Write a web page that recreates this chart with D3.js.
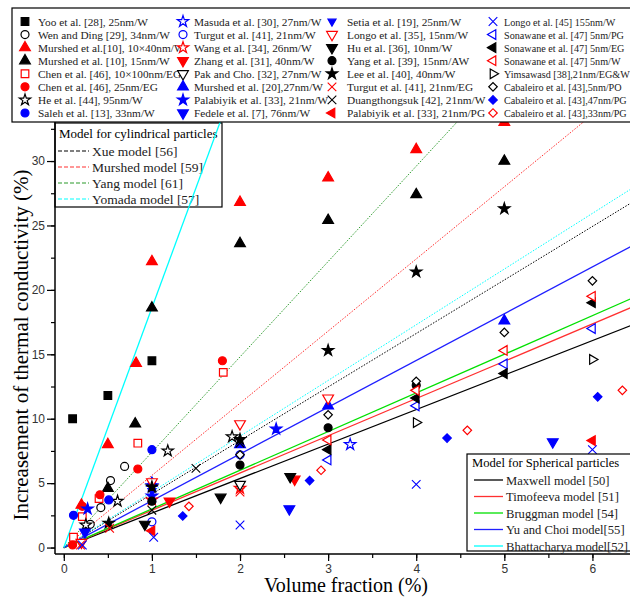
<!DOCTYPE html>
<html>
<head>
<meta charset="utf-8">
<script src="https://cdn.jsdelivr.net/npm/d3@7"></script>
<style>
  body { margin: 0; background: #fff; }
  svg { display: block; }
</style>
</head>
<body>
<div id="app"></div>
<script>
// legend labels, in column order (4 columns x 8 rows)
const seriesNames = [
  "Yoo et al. [28], 25nm/W", "Wen and Ding [29], 34nm/W", "Murshed et al.[10], 10\u00d740nm/W",
  "Murshed et al. [10], 15nm/W", "Chen et al. [46], 10\u00d7100nm/EG", "Chen et al.  [46], 25nm/EG",
  "He et al. [44], 95nm/W", "Saleh et al. [13], 33nm/W",
  "Masuda et al. [30], 27nm/W", "Turgut et al. [41], 21nm/W", "Wang et al. [34], 26nm/W",
  "Zhang et al. [31], 40nm/W", "Pak and Cho. [32], 27nm/W", "Murshed et al. [20],27nm/W",
  "Palabiyik et al. [33], 21nm/W", "Fedele et al. [7], 76nm/W",
  "Setia et al. [19], 25nm/W", "Longo et al. [35], 15nm/W", "Hu et al. [36], 10nm/W",
  "Yang et al. [39], 15nm/AW", "Lee et al. [40], 40nm/W", "Turgut et al. [41], 21nm/EG",
  "Duangthongsuk [42], 21nm/W", "Palabiyik et al. [33], 21nm/PG",
  "Longo et al. [45] 155nm/W", "Sonawane et al. [47] 5nm/PG", "Sonawane et al. [47] 5nm/EG",
  "Sonawane et al. [47] 5nm/W", "Yimsawasd [38],21nm/EG&W", "Cabaleiro et al. [43],5nm/PO",
  "Cabaleiro et al. [43],47nm/PG", "Cabaleiro et al. [43],33nm/PG"
];

// measured points [volume fraction %, enhancement %] per series (same order)
const seriesPoints = [
  [[0.1, 10], [0.5, 11.8], [1, 14.5]],
  [[0.3, 1.8], [0.42, 3.1], [0.53, 5.2], [0.69, 6.3]],
  [[0.2, 3.3], [0.5, 8.0], [0.82, 14.3], [1, 22.2], [2, 26.8], [3, 28.7], [4, 30.9], [5, 33.0]],
  [[0.5, 4.6], [0.81, 9.6], [1, 18.6], [2, 23.6], [3, 25.4], [4, 27.4], [5, 30.0]],
  [[0.11, 0.8], [0.21, 2.4], [0.4, 3.8], [0.84, 8.1], [1.81, 13.6]],
  [[0.1, 0.2], [0.21, 3.2], [0.41, 4.1], [0.84, 6.1], [1.8, 14.5]],
  [[0.25, 1.75], [0.61, 3.6], [1.18, 7.5], [1.91, 8.6]],
  [[0.11, 2.5], [0.51, 3.7], [1, 7.6]],
  [[1, 4.8], [3.25, 8.0]],
  [[1, 2.0], [2, 7.2]],
  [[1, 3.7], [2, 4.6]],
  [[1.2, 3.6], [2.62, 5.3]],
  [[2, 4.9]],
  [[1, 5.0], [2, 8.0], [3, 11.0], [5, 17.6]],
  [[0.27, 3.0], [1, 4.0], [2.41, 9.2]],
  [[0.24, 1.2], [2.56, 3.0], [5.55, 8.2]],
  [[1, 4.4]],
  [[0.2, 0.4], [1, 5.1], [2, 9.6], [3, 11.6]],
  [[0.92, 1.8], [1.78, 3.9], [2.57, 5.5]],
  [[1, 3.6], [2, 6.4], [3, 9.3], [4, 12.6]],
  [[0.51, 1.9], [1, 4.7], [2, 8.4], [3, 15.3], [4, 21.4], [5, 26.3]],
  [[0.19, 0.2], [0.52, 1.5], [2, 4.3]],
  [[1, 2.9], [1.5, 6.15], [2, 8.1]],
  [[1, 1.3], [6, 8.3]],
  [[0.21, 0.2], [1.02, 0.8], [2, 1.75], [4, 4.9], [6, 7.6]],
  [[3, 6.8], [4, 11.0], [5, 14.25], [6, 17.0]],
  [[3, 7.6], [4, 11.6], [5, 13.5], [6, 19.0]],
  [[3, 8.35], [4, 12.2], [5, 15.3], [6, 19.5]],
  [[4, 9.7], [6, 14.6]],
  [[2, 7.2], [3, 10.3], [4, 12.9], [5, 16.7], [6, 20.7]],
  [[1.35, 2.45], [2.79, 5.2], [4.35, 8.5], [6.06, 11.7]],
  [[1.42, 3.2], [2.92, 6.0], [4.58, 9.1], [6.34, 12.2]]
];

// marker look for each series
const markerStyles = [
  ["square", "#000", true], ["circle", "#000", false], ["up", "#f00", true], ["up", "#000", true],
  ["square", "#f00", false], ["circle", "#f00", true], ["star", "#000", false], ["circle", "#00f", true],
  ["star", "#00f", false], ["circle", "#00f", false], ["star", "#f00", false], ["down", "#f00", true],
  ["down", "#000", false], ["up", "#00f", true], ["star", "#00f", true], ["down", "#00f", true],
  ["downSmall", "#00f", true], ["down", "#f00", false], ["down", "#000", true], ["circle", "#000", true],
  ["star", "#000", true], ["x", "#f00", false], ["x", "#000", false], ["left", "#f00", true],
  ["x", "#00f", false], ["left", "#00f", false], ["left", "#000", true], ["left", "#f00", false],
  ["right", "#000", false], ["diamond", "#000", false], ["diamond", "#00f", true], ["diamond", "#f00", false]
];

// model curves (end points)
const sphereNames = ["Maxwell model [50]", "Timofeeva model [51]", "Bruggman model [54]",
  "Yu and Choi model[55]", "Bhattacharya model[52]"];
const sphereColors = ["#000", "#ff3030", "#00e000", "#2020ff", "#00ffff"];
const sphereLines = [
  [[0, 0], [6.5, 17.4]],
  [[0, 0], [6.5, 18.8]],
  [[0, 0], [6.5, 19.5]],
  [[0, 0], [6.5, 23.6]],
  [[0, 0], [1.8, 33.5]]
];
const cylNames = ["Xue model [56]", "Murshed model [59]", "Yang model [61]", "Yomada model [57]"];
const cylColors = ["#000", "#ff3030", "#2a9a2a", "#00ffff"];
const cylLines = [
  [[0, 0], [6.5, 27.0]],
  [[0, 0], [6.5, 36.4]],
  [[0, 0], [6.5, 48.1]],
  [[0, 0], [6.5, 28.1]]
];

const xTicks = [0, 1, 2, 3, 4, 5, 6];
const yTicks = [0, 5, 10, 15, 20, 25, 30];

const W = 630, H = 599;
const plot = { left: 55, right: 640, top: 122, bottom: 554 };

const svg = d3.select("#app").append("svg")
  .attr("width", W).attr("height", H);

const x = d3.scaleLinear().domain([-0.1, 6.54]).range([plot.left, plot.right]);
const y = d3.scaleLinear().domain([-0.5, 33.03]).range([plot.bottom, plot.top]);

const serif = "'Liberation Serif', 'Times New Roman', serif";
const sans = "'Liberation Sans', Arial, sans-serif";

svg.append("defs").append("clipPath").attr("id", "clip")
  .append("rect")
  .attr("x", plot.left).attr("y", plot.top)
  .attr("width", plot.right - plot.left).attr("height", plot.bottom - plot.top);

// marker path
const markerPath = (shape) => {
  const tri = d3.symbol().type(d3.symbolTriangle);
  switch (shape) {
    case "square": return d3.symbol().type(d3.symbolSquare).size(58)();
    case "circle": return d3.symbol().type(d3.symbolCircle).size(50)();
    case "up": return tri.size(50)();
    case "down": return tri.size(50)();
    case "downSmall": return tri.size(28)();
    case "left": return tri.size(40)();
    case "right": return tri.size(40)();
    case "star": return d3.symbol().type(d3.symbolStar).size(40)();
    case "diamond": return d3.symbol().type(d3.symbolSquare).size(36)();
    case "x": { const s = 4.3; return `M${-s},${-s}L${s},${s}M${-s},${s}L${s},${-s}`; }
  }
};
const markerRot = (shape) => ({ down: 180, downSmall: 180, left: -90, right: 90, diamond: 45 }[shape] || 0);

const drawMarker = (g, cx, cy, style) => {
  const [shape, color, filled] = style;
  g.append("path")
    .attr("d", markerPath(shape))
    .attr("transform", `translate(${cx},${cy}) rotate(${markerRot(shape)})`)
    .attr("fill", shape === "x" ? "none" : (filled ? color : "#fff"))
    .attr("stroke", color)
    .attr("stroke-width", shape === "x" ? 1.1 : 1.2);
};

// cylindrical legend box (under the lines)
const cyl = svg.append("g");
cyl.append("rect").attr("x", 55).attr("y", 123).attr("width", 167).attr("height", 84)
  .attr("fill", "#fff").attr("stroke", "#000").attr("stroke-width", 1.2);
cyl.append("text").attr("x", 59).attr("y", 138).text("Model for cylindrical particles")
  .attr("font-family", serif).attr("font-size", "13px");
cylNames.forEach((name, i) => {
  const yy = 151 + i * 16;
  cyl.append("line").attr("x1", 58).attr("x2", 89).attr("y1", yy).attr("y2", yy)
    .attr("stroke", cylColors[i]).attr("stroke-width", 1.2).attr("stroke-dasharray", "4,2");
  cyl.append("text").attr("x", 92).attr("y", yy + 4.5).text(name)
    .attr("font-family", serif).attr("font-size", "13.5px").attr("fill", "#222");
});

// model lines
const lineGen = d3.line().x(d => x(d[0])).y(d => y(d[1]));
const lines = svg.append("g").attr("clip-path", "url(#clip)");
cylLines.forEach((pts, i) => {
  lines.append("path").datum(pts).attr("d", lineGen)
    .attr("fill", "none").attr("stroke", cylColors[i])
    .attr("stroke-width", 1).attr("stroke-dasharray", "1.5,1.5");
});
sphereLines.forEach((pts, i) => {
  lines.append("path").datum(pts).attr("d", lineGen)
    .attr("fill", "none").attr("stroke", sphereColors[i]).attr("stroke-width", 1.3);
});

// data markers
const marks = svg.append("g");
seriesPoints.forEach((pts, i) => {
  pts.forEach(p => drawMarker(marks, x(p[0]), y(p[1]), markerStyles[i]));
});

// axes
const xAxis = svg.append("g").attr("transform", `translate(0,${plot.bottom})`);
xAxis.call(d3.axisBottom(x).tickValues(d3.range(0, 6.6, 0.5)).tickSize(4).tickFormat(""));
xAxis.append("g").call(d3.axisBottom(x).tickValues(xTicks).tickSize(7).tickFormat(d3.format("d")));
const yAxis = svg.append("g").attr("transform", `translate(${plot.left},0)`);
yAxis.call(d3.axisLeft(y).tickValues(d3.range(0, 33, 2.5)).tickSize(4).tickFormat(""));
yAxis.append("g").call(d3.axisLeft(y).tickValues(yTicks).tickSize(8).tickFormat(d3.format("d")));
svg.selectAll(".domain").remove();
svg.append("line").attr("x1", plot.left).attr("x2", W).attr("y1", plot.bottom).attr("y2", plot.bottom)
  .attr("stroke", "#000").attr("stroke-width", 1.5);
svg.append("line").attr("x1", plot.left).attr("x2", plot.left).attr("y1", plot.top).attr("y2", plot.bottom)
  .attr("stroke", "#000").attr("stroke-width", 1.5);
svg.selectAll(".tick line").attr("stroke", "#000").attr("stroke-width", 1.2);
svg.selectAll(".tick text").attr("font-family", sans).attr("font-size", "12px").attr("fill", "#333");
xAxis.selectAll(".tick text").attr("y", 10);
yAxis.selectAll(".tick text").attr("x", -10);

svg.append("text").attr("x", 346).attr("y", 592).attr("text-anchor", "middle")
  .attr("font-family", serif).attr("font-size", "20px").text("Volume fraction (%)");
svg.append("text").attr("transform", "translate(28,345) rotate(-90)").attr("text-anchor", "middle")
  .attr("font-family", serif).attr("font-size", "21px").text("Increasement of thermal conductivity (%)");

// spherical legend box
const sph = svg.append("g");
sph.append("rect").attr("x", 467).attr("y", 454).attr("width", 180).attr("height", 97)
  .attr("fill", "#fff").attr("stroke", "#000").attr("stroke-width", 1.2);
sph.append("text").attr("x", 472).attr("y", 467).text("Model for Spherical particles")
  .attr("font-family", serif).attr("font-size", "12.6px");
sphereNames.forEach((name, i) => {
  const yy = 480 + i * 16.5;
  sph.append("line").attr("x1", 474).attr("x2", 503).attr("y1", yy).attr("y2", yy)
    .attr("stroke", sphereColors[i]).attr("stroke-width", 1.3);
  sph.append("text").attr("x", 506).attr("y", yy + 4.5).text(name)
    .attr("font-family", serif).attr("font-size", "12.6px").attr("fill", "#222");
});

// top legend with all data series
const seriesLegend = svg.append("g");
seriesLegend.append("rect").attr("x", 12).attr("y", 8).attr("width", 640).attr("height", 114)
  .attr("fill", "#fff").attr("stroke", "#000").attr("stroke-width", 1.2);
const iconX = [25, 183, 332, 493];
const textX = [38, 194, 347, 504];
const colSquash = [1, 1, 1, 0.9];
seriesNames.forEach((name, i) => {
  const col = Math.floor(i / 8), row = i % 8;
  const yy = 21.5 + row * 13.07;
  drawMarker(seriesLegend, iconX[col], yy, markerStyles[i]);
  seriesLegend.append("text")
    .attr("transform", `translate(${textX[col]},${yy + 4}) scale(${colSquash[col]},1)`)
    .text(name)
    .attr("font-family", serif).attr("font-size", "11.3px").attr("fill", "#222");
});
</script>
</body>
</html>
